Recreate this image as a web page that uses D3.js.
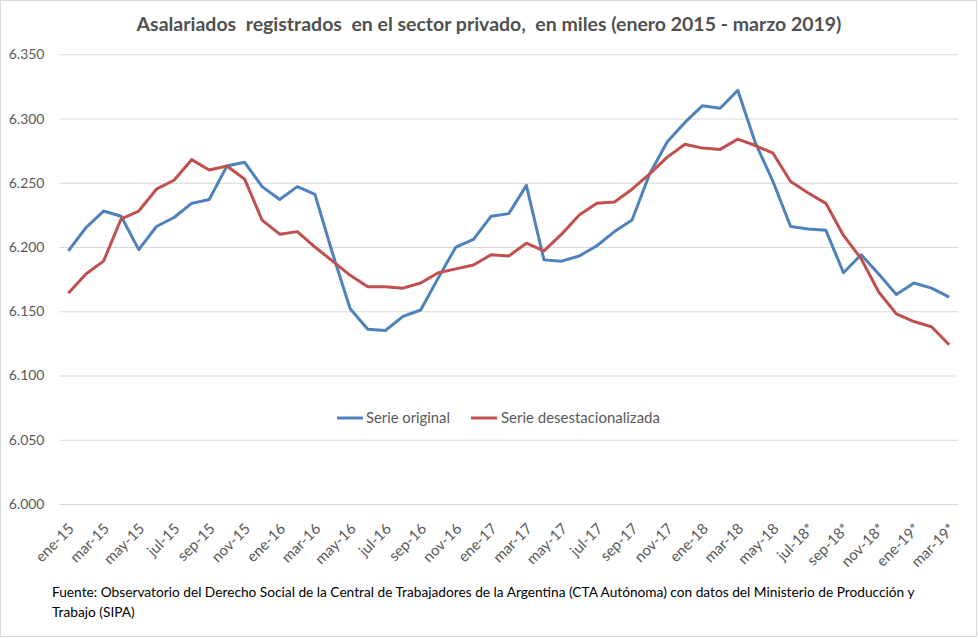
<!DOCTYPE html>
<html>
<head>
<meta charset="utf-8">
<script src="https://cdn.jsdelivr.net/npm/d3@7"></script>
<style>
  body { margin: 0; background: #fff; }
  svg text { font-family: Lato, "Open Sans", sans-serif; }
</style>
</head>
<body>
<div id="chart"></div>
<script>
var months = ["ene-15","feb-15","mar-15","abr-15","may-15","jun-15","jul-15","ago-15","sep-15","oct-15","nov-15","dic-15",
              "ene-16","feb-16","mar-16","abr-16","may-16","jun-16","jul-16","ago-16","sep-16","oct-16","nov-16","dic-16",
              "ene-17","feb-17","mar-17","abr-17","may-17","jun-17","jul-17","ago-17","sep-17","oct-17","nov-17","dic-17",
              "ene-18","feb-18","mar-18","abr-18","may-18","jun-18","jul-18*","ago-18*","sep-18*","oct-18*","nov-18*","dic-18*",
              "ene-19*","feb-19*","mar-19*"];

var serie_original = [6197,6215,6228,6224,6198,6216,6223,6234,6237,6263,6266,6247,
                      6237,6247,6241,6195,6152,6136,6135,6146,6151,6176,6200,6206,
                      6224,6226,6248,6190,6189,6193,6201,6212,6221,6257,6282,6297,
                      6310,6308,6322,6281,6251,6216,6214,6213,6180,6194,6179,6163,
                      6172,6168,6161];

var serie_desest = [6164,6179,6189,6222,6228,6245,6252,6268,6260,6263,6253,6221,
                    6210,6212,6200,6189,6178,6169,6169,6168,6172,6180,6183,6186,
                    6194,6193,6203,6197,6210,6225,6234,6235,6245,6257,6270,6280,
                    6277,6276,6284,6279,6273,6251,6242,6234,6209,6191,6165,6148,
                    6142,6138,6124];

var y_ticks = [6000, 6050, 6100, 6150, 6200, 6250, 6300, 6350];

var series = [
    {name: "Serie original", values: serie_original, color: "#4F81BD"},
    {name: "Serie desestacionalizada", values: serie_desest, color: "#C0504D"}
];

var width = 978, height = 639;

var svg = d3.select("#chart")
    .append("svg")
    .attr("width", width)
    .attr("height", height);

// chart frame
svg.append("rect")
    .attr("x", 0.5).attr("y", 0.5)
    .attr("width", width - 2).attr("height", height - 3)
    .attr("fill", "#fff")
    .attr("stroke", "#D9D9D9");

// fit a text element to a target width by changing its font size
function fit_width(sel, target){
    var node = sel.node();
    var size = parseFloat(sel.attr("font-size"));
    var w = node.getComputedTextLength();
    if (w > 0) sel.attr("font-size", (size * target / w).toFixed(2));
}

var x = d3.scaleBand()
    .domain(months)
    .range([59.5, 958]);

var y = d3.scaleLinear()
    .domain([6000, 6350])
    .range([504, 54.3]);

var locale = d3.formatLocale({decimal: ",", thousands: ".", grouping: [3], currency: ["$", ""]});
var fmt = locale.format(",.0f");

// grid + y labels
var y_axis = svg.append("g")
    .attr("transform", "translate(59.5,0)")
    .call(d3.axisLeft(y).tickValues(y_ticks).tickFormat(fmt).tickSize(-898.5).tickPadding(15));
y_axis.select(".domain").remove();
y_axis.selectAll(".tick line")
    .attr("stroke", "#D9D9D9")
    .attr("stroke-width", 1);
y_axis.selectAll(".tick text")
    .attr("fill", "#595959")
    .attr("font-size", 14)
    .style("font-family", "Lato, sans-serif");

// x labels, every other month
var x_axis = svg.append("g")
    .attr("transform", "translate(0,504)")
    .call(d3.axisBottom(x).tickValues(months.filter((d, i) => i % 2 == 0)).tickSize(0));
x_axis.select(".domain").remove();
x_axis.selectAll(".tick text")
    .attr("fill", "#595959")
    .attr("font-size", 15)
    .style("font-family", "Lato, sans-serif")
    .attr("text-anchor", "end")
    .attr("y", 0)
    .attr("dy", "0.35em")
    .attr("transform", "translate(3,22) rotate(-45)");

// lines
var line = d3.line()
    .x((d, i) => x(months[i]) + x.bandwidth() / 2)
    .y(d => y(d));

svg.selectAll(".serie")
    .data(series)
    .enter()
    .append("path")
    .attr("class", "serie")
    .attr("fill", "none")
    .attr("stroke", d => d.color)
    .attr("stroke-width", 3)
    .attr("stroke-linejoin", "round")
    .attr("d", d => line(d.values));

// title
var title = svg.append("text")
    .attr("x", 489).attr("y", 31)
    .attr("text-anchor", "middle")
    .attr("font-size", 18)
    .attr("font-weight", "bold")
    .attr("fill", "#505050")
    .attr("xml:space", "preserve")
    .text("Asalariados  registrados  en el sector privado,  en miles (enero 2015 - marzo 2019)");
fit_width(title, 705);

// legend
var legend_pos = [{x0: 337, tx: 366, w: 84}, {x0: 471, tx: 501, w: 159}];
var legend = svg.selectAll(".legend")
    .data(series)
    .enter()
    .append("g")
    .attr("class", "legend");
legend.append("line")
    .attr("x1", (d, i) => legend_pos[i].x0)
    .attr("x2", (d, i) => legend_pos[i].x0 + 26)
    .attr("y1", 418).attr("y2", 418)
    .attr("stroke", d => d.color)
    .attr("stroke-width", 3);
legend.append("text")
    .attr("x", (d, i) => legend_pos[i].tx)
    .attr("y", 423)
    .attr("font-size", 14)
    .attr("fill", "#595959")
    .text(d => d.name)
    .each(function(d, i){ fit_width(d3.select(this), legend_pos[i].w); });

// source note
var note1 = svg.append("text")
    .attr("x", 52).attr("y", 597)
    .attr("font-size", 13.5)
    .attr("fill", "#000")
    .text("Fuente: Observatorio del Derecho Social de la Central de Trabajadores de la Argentina (CTA Autónoma) con datos del Ministerio de Producción y");
fit_width(note1, 863);
svg.append("text")
    .attr("x", 52).attr("y", 617)
    .attr("font-size", note1.attr("font-size"))
    .attr("fill", "#000")
    .text("Trabajo (SIPA)");
</script>
</body>
</html>
